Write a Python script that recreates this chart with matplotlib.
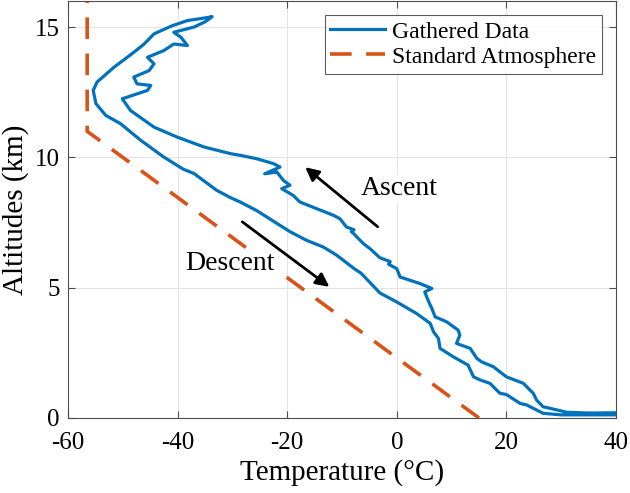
import numpy as np
import matplotlib.pyplot as plt

# ascent leg (bottom -> top)
asc_temp = [40.0, 35.0, 31.0, 29.2, 28.0, 26.7, 25.5, 24.9, 24.3, 23.1, 20.0, 17.6,
            15.5, 14.6, 13.4, 10.9, 11.5, 11.2, 9.1, 7.0, 6.4, 5.7, 5.1, 6.4,
            4.2, 0.6, 0.0, -0.6, -1.5, -1.2, -3.1, -4.9, -6.1, -7.9, -8.3, -7.8,
            -9.2, -10.4, -11.6, -14.6, -17.7, -18.9, -21.0, -19.5, -20.7, -21.9,
            -24.1, -21.3, -22.5, -25.6, -28.6, -30.3, -35.2, -40.1, -44.3, -48.6,
            -50.1, -49.2, -45.5, -44.9, -47.4, -48.0, -45.2, -44.3, -45.5, -42.5,
            -40.7, -38.2, -39.4, -40.7, -37.0, -35.0, -34.0, -33.7]
asc_alt = [0.20, 0.19, 0.22, 0.31, 0.37, 0.43, 0.69, 0.95, 1.07, 1.33, 1.58, 1.97,
           2.15, 2.29, 2.67, 2.86, 3.18, 3.37, 3.69, 3.88, 4.20, 4.52, 4.84, 4.97,
           5.16, 5.41, 5.73, 5.80, 5.90, 6.00, 6.15, 6.50, 6.69, 7.08, 7.15, 7.22,
           7.33, 7.65, 7.78, 8.03, 8.29, 8.54, 8.80, 8.93, 9.12, 9.44,
           9.37, 9.63, 9.76, 9.95, 10.08, 10.14, 10.40, 10.78, 11.16, 11.80,
           12.25, 12.31, 12.57, 12.76, 12.82, 13.08, 13.33, 13.59, 13.84, 14.10,
           14.35, 14.29, 14.61, 14.80, 15.00, 15.20, 15.35, 15.40]

# descent leg (top -> bottom)
desc_temp = [-33.7, -35.0, -38.2, -41.0, -44.3, -46.1, -48.0, -51.6, -54.7, -55.4,
             -54.9, -53.1, -50.4, -46.7, -42.5, -39.0, -37.0, -32.9, -30.3, -28.6,
             -25.5, -22.5, -19.5, -16.5, -13.4, -11.0, -7.9, -6.5, -4.9, -3.1,
             0.0, 3.6, 6.1, 6.7, 7.6, 7.9, 10.3, 13.0, 14.0, 15.2, 17.0, 18.8,
             20.0, 22.5, 23.7, 26.7, 30.0, 40.0]
desc_alt = [15.40, 15.35, 15.25, 15.05, 14.74, 14.35, 14.03, 13.46, 12.89, 12.57,
            12.06, 11.61, 11.29, 10.65, 10.01, 9.55, 9.38, 8.74, 8.45, 8.29,
            7.95, 7.55, 7.15, 6.82, 6.56, 6.25, 5.75, 5.55, 5.20, 4.80,
            4.45, 4.01, 3.63, 3.31, 3.05, 2.67, 2.35, 2.03, 1.58, 1.46, 1.33, 0.95,
            0.90, 0.56, 0.50, 0.18, 0.12, 0.12]

# standard atmosphere
std_alt = [0.0, 11.0, 16.0]
std_temp = [15.0, -56.5, -56.5]

plt.rcParams['font.family'] = ['Liberation Serif', 'DejaVu Serif']
plt.rcParams['axes.unicode_minus'] = False

fig = plt.figure(figsize=(6.3, 4.93), dpi=100)
ax = fig.add_axes([68/630, 75/493, 548/630, 417/493])

temp = asc_temp + desc_temp
alt = asc_alt + desc_alt
ax.plot(temp, alt, color='#0072BD', lw=2.3, label='Gathered Data')
ax.plot(std_temp, std_alt, color='#D95319', lw=2.6, dashes=(6, 4),
        label='Standard Atmosphere')

ax.set_xlim(-60, 40)
ax.set_ylim(0, 16)
ax.set_xticks([-60, -40, -20, 0, 20, 40])
ax.set_yticks([0, 5, 10, 15])
ax.grid(True, color='#e3e3e3', lw=0.7)
ax.set_axisbelow(True)
for s in ax.spines.values():
    s.set_color('#4d4d4d')
    s.set_linewidth(0.8)
ax.tick_params(direction='in', length=5, top=True, right=True, labelsize=18,
               color='#4d4d4d', pad=6)
ax.tick_params(axis='x', pad=10)

ax.set_xlabel('Temperature (°C)', fontsize=21, labelpad=4)
ax.set_ylabel('Altitudes (km)', fontsize=21, labelpad=4)

ax.annotate('', xy=(-17.1, 9.69), xytext=(-3.1, 7.27),
            arrowprops=dict(arrowstyle='-|>', color='black', lw=2,
                            mutation_scale=20))
ax.annotate('', xy=(-11.9, 4.97), xytext=(-28.6, 7.59),
            arrowprops=dict(arrowstyle='-|>', color='black', lw=2,
                            mutation_scale=20))
ax.text(-6.5, 8.8, 'Ascent', fontsize=20, va='center', ha='left',
        bbox=dict(facecolor='white', edgecolor='none', pad=1))
ax.text(-38.6, 5.94, 'Descent', fontsize=20, va='center', ha='left',
        bbox=dict(facecolor='white', edgecolor='none', pad=1))

leg = ax.legend(loc='upper right', fontsize=17, frameon=True, fancybox=False,
                handlelength=2.3, borderpad=0.25, labelspacing=0.15,
                handletextpad=0.3, borderaxespad=0.6)
leg.get_frame().set_edgecolor('#333333')
leg.get_frame().set_linewidth(0.8)

fig.savefig('out.png', dpi=100)
